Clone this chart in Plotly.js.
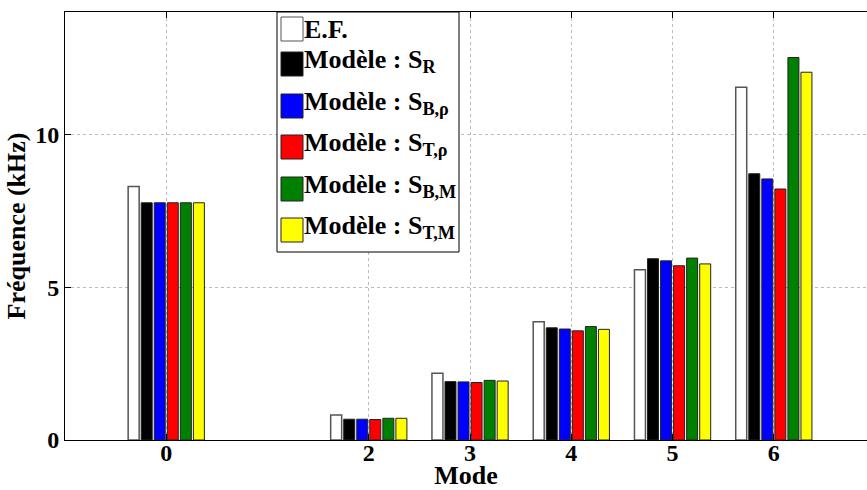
<!DOCTYPE html>
<html>
<head>
<meta charset="utf-8">
<script src="https://cdn.plot.ly/plotly-3.0.1.min.js"></script>
<style>html,body{margin:0;padding:0;background:#fff;overflow:hidden;}</style>
</head>
<body>
<div id="chart" style="width:867px;height:490px;"></div>
<script>
// ---- data ----
const modes = [0, 2, 3, 4, 5, 6];
const tickLabels = ['0', '2', '3', '4', '5', '6'];
const seriesNames = ['E.F.', 'Modèle : S<sub>R</sub>', 'Modèle : S<sub>B,ρ</sub>', 'Modèle : S<sub>T,ρ</sub>', 'Modèle : S<sub>B,M</sub>', 'Modèle : S<sub>T,M</sub>'];
const ef    = [8.29, 0.82, 2.18, 3.87, 5.57, 11.54];
const sR    = [7.76, 0.68, 1.91, 3.67, 5.93, 8.71];
const sBrho = [7.76, 0.68, 1.90, 3.63, 5.86, 8.54];
const sTrho = [7.76, 0.67, 1.88, 3.57, 5.70, 8.21];
const sBM   = [7.76, 0.71, 1.95, 3.71, 5.95, 12.51];
const sTM   = [7.76, 0.71, 1.93, 3.62, 5.76, 12.03];
const seriesValues = [ef, sR, sBrho, sTrho, sBM, sTM];
const seriesColors = ['#ffffff', '#000000', '#0000ff', '#ff0000', '#008000', '#ffff00'];

// ---- layout helpers ----
const W = 867, H = 490;
const M = {l: 65, r: 0, t: 12, b: 50};
const pw = W - M.l - M.r, ph = H - M.t - M.b;
const px2x = p => (p - M.l) / pw;
const py2y = p => (H - M.b - p) / ph;
const FAM = 'Liberation Serif';
const TICKFONT = {family: FAM, size: 24, color: '#000', weight: 'bold'};
const TITLEFONT = {family: FAM, size: 26, color: '#000', weight: 'bold'};
const LEGFONT = {family: FAM, size: 26, color: '#000', weight: 'bold'};

const traces = seriesValues.map((vals, i) => ({
  type: 'bar',
  x: modes,
  y: vals,
  name: seriesNames[i],
  marker: {
    color: seriesColors[i],
    line: {color: i === 0 ? '#555' : '#222', width: i === 0 ? 1.5 : 1}
  },
  showlegend: false,
  hoverinfo: 'x+y'
}));

// custom legend (MATLAB style)
const legBox = {x0: 277, x1: 459, y0: 12, y1: 252};
const rowCenters = [29, 64, 106, 147, 189, 230];
const shapes = [{
  type: 'rect', xref: 'paper', yref: 'paper', layer: 'above',
  x0: px2x(legBox.x0), x1: px2x(legBox.x1), y0: py2y(legBox.y1), y1: py2y(legBox.y0),
  fillcolor: '#fff', line: {color: '#000', width: 1}
}];
const annotations = [];
seriesNames.forEach((nm, i) => {
  const c = rowCenters[i];
  shapes.push({
    type: 'rect', xref: 'paper', yref: 'paper', layer: 'above',
    x0: px2x(281), x1: px2x(303), y0: py2y(c + 12), y1: py2y(c - 12),
    fillcolor: seriesColors[i], line: {color: i === 0 ? '#555' : '#222', width: 1}
  });
  annotations.push({
    xref: 'paper', yref: 'paper', x: px2x(302), y: py2y(i === 0 ? c : c - 3),
    xanchor: 'left', yanchor: 'middle', showarrow: false,
    text: nm, font: LEGFONT
  });
});

const layout = {
  width: W, height: H,
  margin: M,
  paper_bgcolor: '#fff', plot_bgcolor: '#fff',
  font: TICKFONT,
  barmode: 'group',
  bargap: 0.227,
  bargroupgap: 0.157,
  xaxis: {
    range: [-1, 6.92],
    tickvals: modes, ticktext: tickLabels,
    ticks: 'inside', ticklen: 6, tickcolor: '#000', tickwidth: 1,
    ticklabelstandoff: -9,
    showline: true, linecolor: '#000', linewidth: 1, mirror: 'ticks',
    showgrid: true, gridcolor: '#bbbbbb', griddash: 'dot', gridwidth: 1,
    zeroline: false,
    tickfont: TICKFONT,
    title: {text: 'Mode', font: TITLEFONT, standoff: 10}
  },
  yaxis: {
    range: [0, 14],
    tickvals: [0, 5, 10], ticktext: ['0', '5', '10'],
    ticks: 'inside', ticklen: 6, tickcolor: '#000', tickwidth: 1,
    showline: true, linecolor: '#000', linewidth: 1, mirror: false,
    showgrid: true, gridcolor: '#bbbbbb', griddash: 'dot', gridwidth: 1,
    zeroline: false,
    tickfont: TICKFONT,
    title: {text: 'Fréquence (kHz)', font: TITLEFONT, standoff: 2}
  },
  shapes: shapes,
  annotations: annotations
};

Plotly.newPlot('chart', traces, layout, {displayModeBar: false, staticPlot: true});
</script>
</body>
</html>
